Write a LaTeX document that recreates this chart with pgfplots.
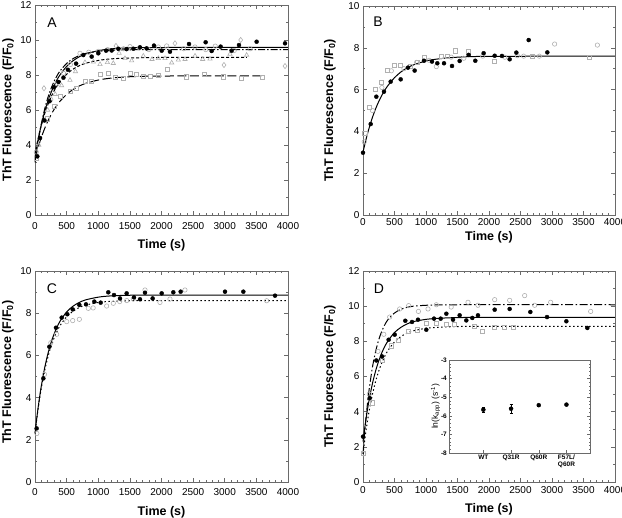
\documentclass[border=0pt]{standalone}
\usepackage{fontspec}
\setmainfont{Liberation Sans}
\usepackage{pgfplots}
\pgfplotsset{compat=1.18}

\definecolor{framegray}{HTML}{6A6A6A}
\definecolor{markgray}{HTML}{B0B0B0}

\tikzset{panel letter/.style={font=\fontsize{14}{16}\selectfont}}

\pgfplotsset{
  kinetics/.style={
    scale only axis, width=253pt, height=210pt,
    xmin=0, xmax=4000, ymin=0,
    xtick={0,500,...,4000}, minor x tick num=4, minor y tick num=1,
    tick align=inside, major tick length=4pt, minor tick length=2pt,
    axis line style={framegray, line width=0.7pt},
    tick style={framegray, line width=0.5pt},
    /pgf/number format/assume math mode=true,
    /pgf/number format/1000 sep={},
    scaled x ticks=false, scaled y ticks=false,
    tick label style={font=\fontsize{10}{12}\selectfont},
    xlabel={\textbf{Time (s)}},
    ylabel={\textbf{ThT Fluorescence (F/F\textsubscript{0})}},
    label style={font=\fontsize{12.5}{14}\selectfont},
    clip=false,
  },
  filled/.style={only marks, mark=*, mark size=2pt, black},
  opencirc/.style={only marks, mark=o, mark size=2.2pt, draw=markgray, mark options={line width=0.6pt}},
  opensq/.style={only marks, mark=square, mark size=2.1pt, draw=markgray, mark options={line width=0.6pt}},
  opentri/.style={only marks, mark=triangle, mark size=2.5pt, draw=markgray, mark options={line width=0.6pt}},
  opendia/.style={only marks, mark=diamond, mark size=2.6pt, draw=markgray, mark options={line width=0.6pt}},
  fit/.style={black, line width=1pt, smooth, no marks},
}

\begin{document}
\begin{tikzpicture}
\useasboundingbox (0,0) rectangle (622pt,518pt);

% ---------------- Panel A ----------------
\begin{axis}[kinetics, at={(35pt,303pt)}, anchor=south west,
  ymax=12, ytick={0,2,...,12},
  xticklabel style={yshift=-4pt},
  xlabel style={at={(axis description cs:0.5,-0.145)}, anchor=center},
  ylabel style={at={(axis description cs:-0.106,0.5)}, anchor=center}]
\addplot[opensq] coordinates {(26,3.24) (200,5.5) (300,6.2) (395,6.76) (553,7.09) (659,7.24) (790,7.62) (896,7.66) (1028,8.06) (1160,8.1) (1265,7.85) (1397,7.81) (1502,8.1) (1607,8.06) (1713,7.94) (1818,7.94) (1950,8.0) (2092,8.32) (2398,7.9) (2672,8.04) (2978,7.9) (3267,7.81) (3594,7.85)};
\addplot[opentri] coordinates {(60,4.0) (200,6.0) (320,6.9) (420,7.4) (553,7.71) (640,8.2) (790,8.72) (922,8.75) (1028,8.61) (1144,8.72) (1238,8.67) (1330,9.25) (1423,8.95) (1528,8.82) (1713,9.09) (1850,8.9) (1950,8.95) (2055,8.95) (2161,8.7) (2266,8.86) (2372,8.9) (2530,9.09) (2651,8.9) (2767,8.92) (3083,9.2) (3346,9.14)};
\addplot[opencirc] coordinates {(20,3.6) (250,6.6) (350,7.5) (450,8.1) (560,8.6) (711,9.24) (850,9.3) (1000,9.35) (1150,9.45) (1400,9.5) (1502,9.62) (1650,9.55) (1800,9.45) (1950,9.6) (2082,9.66) (2350,9.5) (2530,9.6) (2700,9.45) (2850,9.65) (3150,9.4) (3400,9.5)};
\addplot[opendia] coordinates {(142,7.24) (1280,9.66) (2213,9.81) (2988,8.57) (3252,10.0) (3953,8.51)};
\addplot[fit, dash pattern=on 9pt off 3.5pt] coordinates {(0,3.20)(25,3.54)(50,3.86)(75,4.16)(100,4.43)(150,4.92)(200,5.34)(250,5.71)(300,6.02)(350,6.29)(400,6.52)(500,6.89)(600,7.17)(700,7.37)(800,7.52)(1000,7.71)(1200,7.82)(1500,7.90)(2000,7.94)(3600,7.95)};
\addplot[fit, dash pattern=on 3pt off 2pt] coordinates {(0,3.50)(25,3.96)(50,4.38)(75,4.77)(100,5.12)(150,5.75)(200,6.27)(250,6.71)(300,7.08)(350,7.38)(400,7.64)(500,8.04)(600,8.33)(700,8.53)(800,8.67)(1000,8.83)(1200,8.92)(1500,8.97)(2000,9.00)(3350,9.00)};
\addplot[fit, dash pattern=on 7pt off 2pt on 1.5pt off 2pt] coordinates {(0,3.00)(25,3.64)(50,4.22)(75,4.74)(100,5.21)(150,6.01)(200,6.67)(250,7.19)(300,7.62)(350,7.97)(400,8.25)(500,8.66)(600,8.93)(700,9.11)(800,9.23)(1000,9.35)(1200,9.41)(1500,9.44)(2000,9.45)(4000,9.45)};
\addplot[fit] coordinates {(0,3.30)(25,3.83)(50,4.31)(75,4.75)(100,5.15)(150,5.87)(200,6.46)(250,6.96)(300,7.38)(350,7.74)(400,8.03)(500,8.49)(600,8.81)(700,9.04)(800,9.20)(1000,9.39)(1200,9.49)(1500,9.55)(2000,9.57)(4000,9.58)};
\addplot[filled] coordinates {(37,3.35) (80,4.4) (150,5.4) (230,6.5) (300,7.3) (370,7.6) (450,7.85) (520,8.3) (650,8.65) (764,9.14) (896,9.05) (1001,9.24) (1123,9.39) (1212,9.4) (1318,9.5) (1449,9.48) (1555,9.5) (1660,9.58) (1765,9.52) (1881,9.68) (2003,9.39) (2134,9.33) (2435,9.77) (2698,9.87) (2793,9.37) (2935,9.62) (3109,9.39) (3225,9.71) (3504,9.9) (3953,9.81)};
\node[panel letter] at (rel axis cs:0.067,0.914) {A};
\end{axis}

% ---------------- Panel B ----------------
\begin{axis}[kinetics, at={(363pt,303pt)}, anchor=south west,
  width=252pt, height=209pt,
  ymax=10, ytick={0,2,...,10},
  xlabel style={at={(axis description cs:0.5,-0.105)}, anchor=center},
  ylabel style={at={(axis description cs:-0.131,0.5)}, anchor=center}]
\addplot[opencirc] coordinates {(20,3.5) (150,5.0) (300,6.1) (450,6.9) (650,7.0) (850,7.3) (1050,7.4) (1164,7.1) (1400,7.55) (1600,7.5) (1900,7.6) (2250,7.55) (2450,7.62) (2550,7.6) (2800,7.6) (3042,8.18) (3720,8.13)};
\addplot[opensq] coordinates {(30,3.9) (106,5.15) (196,6.01) (291,6.35) (386,6.94) (492,7.18) (598,7.18) (750,7.1) (860,7.3) (979,7.54) (1243,7.58) (1339,7.61) (1466,7.86) (1677,7.81) (2090,7.34) (2683,7.61) (3598,7.54)};
\addplot[fit] coordinates {(0,3.00)(25,3.33)(50,3.64)(75,3.93)(100,4.19)(150,4.67)(200,5.08)(250,5.43)(300,5.73)(350,5.99)(400,6.21)(500,6.57)(600,6.84)(700,7.04)(800,7.18)(1000,7.37)(1200,7.47)(1500,7.55)(2000,7.59)(4000,7.60)};
\addplot[filled] coordinates {(0,2.98) (122,4.35) (212,5.66) (333,5.9) (439,6.38) (598,6.49) (714,7.05) (820,6.91) (968,7.38) (1095,7.34) (1180,7.26) (1286,7.26) (1413,7.13) (1534,7.37) (1677,7.66) (1783,7.38) (1915,7.74) (2090,7.62) (2206,7.61) (2328,7.45) (2434,7.77) (2630,8.37) (2926,7.78)};
\node[panel letter] at (rel axis cs:0.06,0.923) {B};
\end{axis}

% ---------------- Panel C ----------------
\begin{axis}[kinetics, at={(35pt,36pt)}, anchor=south west,
  height=211pt,
  ymax=10, ytick={0,2,...,10},
  xticklabel style={yshift=-3pt},
  xlabel style={at={(axis description cs:0.5,-0.142)}, anchor=center},
  ylabel style={at={(axis description cs:-0.107,0.52)}, anchor=center}]
\addplot[opencirc] coordinates {(30,2.3) (150,5.1) (250,6.6) (343,7.0) (501,7.6) (596,7.65) (701,7.71) (843,8.23) (920,8.25) (1133,8.34) (1238,8.47) (1340,8.55) (1450,8.6) (1555,8.67) (1739,9.1) (1976,8.51) (2134,8.67) (2371,9.1) (3663,8.59)};
\addplot[fit, dash pattern=on 1.5pt off 2.5pt] coordinates {(0,2.30)(25,2.93)(50,3.49)(75,4.00)(100,4.46)(150,5.24)(200,5.88)(250,6.40)(300,6.81)(350,7.15)(400,7.43)(500,7.83)(600,8.09)(700,8.27)(800,8.38)(1000,8.51)(1200,8.56)(1500,8.59)(2000,8.60)(4000,8.60)};
\addplot[fit] coordinates {(0,2.30)(25,2.95)(50,3.54)(75,4.07)(100,4.55)(150,5.37)(200,6.03)(250,6.57)(300,7.00)(350,7.35)(400,7.64)(500,8.06)(600,8.33)(700,8.51)(800,8.63)(1000,8.76)(1200,8.82)(1500,8.85)(2000,8.86)(4000,8.86)};
\addplot[filled] coordinates {(26,2.54) (132,4.91) (227,6.41) (332,7.31) (422,7.79) (511,7.95) (596,8.18) (701,8.39) (806,8.42) (938,8.55) (1038,8.5) (1159,8.99) (1249,8.86) (1344,8.7) (1449,8.94) (1565,8.75) (1660,8.66) (1739,8.97) (1860,8.7) (2003,8.94) (2187,8.99) (2303,9.02) (3004,9.02) (3294,9.02) (3795,8.83)};
\node[panel letter] at (rel axis cs:0.067,0.915) {C};
\end{axis}

% ---------------- Panel D ----------------
\begin{axis}[kinetics, at={(363pt,36pt)}, anchor=south west,
  width=252pt, height=211pt,
  ymax=12, ytick={0,2,...,12},
  xticklabel style={yshift=-1pt},
  xlabel style={at={(axis description cs:0.5,-0.128)}, anchor=center},
  ylabel style={at={(axis description cs:-0.131,0.5)}, anchor=center}]
\addplot[opensq] coordinates {(0,1.63) (150,4.5) (300,6.9) (450,7.75) (566,8.05) (714,8.57) (862,8.66) (1005,9.04) (1164,9.04) (1323,8.95) (1455,8.95) (1772,8.85) (1889,8.57) (2090,8.81) (2249,8.81) (2381,8.81)};
\addplot[opencirc] coordinates {(10,1.6) (100,5.0) (238,7.43) (330,8.4) (423,9.38) (582,9.84) (725,10.03) (880,9.7) (1032,9.84) (1164,10.08) (1400,9.95) (1667,10.22) (1825,10.05) (2090,10.37) (2328,10.33) (2566,10.6) (2725,10.05) (2979,10.22) (3614,9.7)};
\addplot[fit, dash pattern=on 1.5pt off 2.5pt] coordinates {(0,1.60)(25,2.32)(50,2.97)(75,3.56)(100,4.09)(150,4.99)(200,5.72)(250,6.31)(300,6.79)(350,7.18)(400,7.50)(500,7.96)(600,8.27)(700,8.47)(800,8.60)(1000,8.74)(1200,8.80)(1500,8.84)(2000,8.85)(4000,8.85)};
\addplot[fit, dash pattern=on 8pt off 2.5pt on 1.5pt off 2.5pt] coordinates {(0,1.60)(25,2.75)(50,3.73)(75,4.59)(100,5.33)(150,6.53)(200,7.42)(250,8.09)(300,8.59)(350,8.97)(400,9.25)(500,9.61)(600,9.82)(700,9.93)(800,10.00)(1000,10.05)(1200,10.07)(1500,10.08)(4000,10.08)};
\addplot[fit] coordinates {(0,2.30)(25,3.00)(50,3.64)(75,4.21)(100,4.72)(150,5.60)(200,6.31)(250,6.89)(300,7.36)(350,7.74)(400,8.04)(500,8.50)(600,8.79)(700,8.99)(800,9.12)(1000,9.25)(1200,9.31)(1500,9.35)(2000,9.36)(4000,9.36)};
\addplot[filled] coordinates {(0,2.58) (106,4.77) (212,6.91) (302,7.14) (407,8.09) (503,8.38) (672,9.17) (778,9.1) (873,9.23) (1005,8.66) (1127,9.29) (1233,9.29) (1323,9.57) (1429,9.23) (1534,9.48) (1640,9.19) (1735,9.33) (1825,9.48) (2090,9.8) (2328,9.84) (2656,9.67) (2921,9.38) (3228,9.14) (3561,8.76)};
\node[panel letter] at (rel axis cs:0.063,0.915) {D};
\end{axis}

% ---------------- Inset: apparent rate constants ----------------
\begin{axis}[scale only axis, width=141pt, height=93pt,
  at={(449pt,65pt)}, anchor=south west,
  axis background/.style={fill=white},
  xmin=-0.24, xmax=4.85, ymin=-8, ymax=-3,
  xtick={1,2,3,4}, xticklabels={WT,Q31R,Q60R,{F57L/\\Q60R}},
  xtick pos=bottom, ytick={-8,-7,...,-3}, minor y tick num=4,
  tick align=inside, major tick length=3pt, minor tick length=1.5pt,
  axis line style={framegray, line width=0.6pt},
  tick style={framegray, line width=0.4pt},
  /pgf/number format/assume math mode=true,
  xticklabel style={align=center, font=\bfseries\fontsize{6.5}{7}\selectfont, inner sep=2pt},
  yticklabel style={font=\bfseries\fontsize{6.5}{7}\selectfont, inner sep=2pt},
  ylabel={ln(k\textsubscript{app}) (s\textsuperscript{-1})},
  ylabel style={font=\fontsize{8.5}{10}\selectfont, at={(axis description cs:-0.095,0.5)}, anchor=center},
  clip=false]
\addplot[only marks, mark=*, mark size=2pt, black,
  error bars/.cd, y dir=both, y explicit,
  error bar style={black, line width=0.5pt},
  error mark options={black, mark size=1.5pt, rotate=90}]
  coordinates {(1,-5.67) +- (0,0.12) (2,-5.62) +- (0,0.25) (3,-5.43) +- (0,0.05) (4,-5.40) +- (0,0.05)};
\end{axis}
\end{tikzpicture}
\end{document}
